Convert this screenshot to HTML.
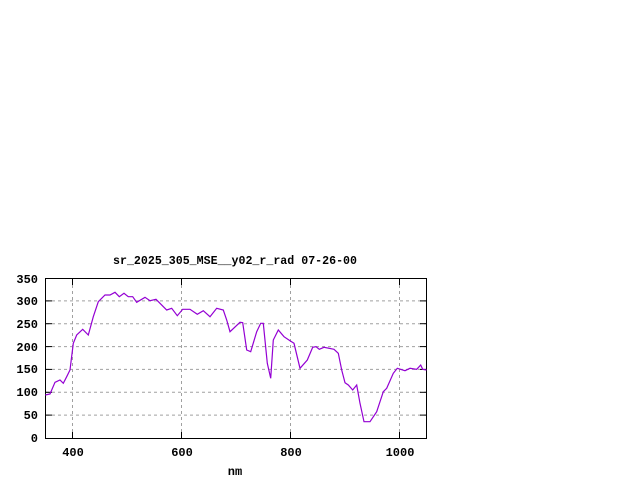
<!DOCTYPE html>
<html><head><meta charset="utf-8"><style>
html,body{margin:0;padding:0;background:#fff;width:640px;height:480px;overflow:hidden}
text{font-family:"Liberation Mono",monospace;font-size:12px;font-weight:bold;fill:#000}
</style></head><body>
<svg width="640" height="480" xmlns="http://www.w3.org/2000/svg">
<g stroke="#a0a0a0" stroke-width="1" stroke-dasharray="3,3">
<line x1="46" y1="415.1" x2="426" y2="415.1"/>
<line x1="46" y1="392.3" x2="426" y2="392.3"/>
<line x1="46" y1="369.4" x2="426" y2="369.4"/>
<line x1="46" y1="346.6" x2="426" y2="346.6"/>
<line x1="46" y1="323.7" x2="426" y2="323.7"/>
<line x1="46" y1="300.9" x2="426" y2="300.9"/>
<line x1="72.5" y1="279" x2="72.5" y2="438"/>
<line x1="181.5" y1="279" x2="181.5" y2="438"/>
<line x1="290.5" y1="279" x2="290.5" y2="438"/>
<line x1="399.5" y1="279" x2="399.5" y2="438"/>
</g>
<rect x="45.5" y="278.5" width="381" height="160" fill="none" stroke="#000"/>
<g stroke="#000">
<line x1="46" y1="415.1" x2="52" y2="415.1"/><line x1="420" y1="415.1" x2="426" y2="415.1"/>
<line x1="46" y1="392.3" x2="52" y2="392.3"/><line x1="420" y1="392.3" x2="426" y2="392.3"/>
<line x1="46" y1="369.4" x2="52" y2="369.4"/><line x1="420" y1="369.4" x2="426" y2="369.4"/>
<line x1="46" y1="346.6" x2="52" y2="346.6"/><line x1="420" y1="346.6" x2="426" y2="346.6"/>
<line x1="46" y1="323.7" x2="52" y2="323.7"/><line x1="420" y1="323.7" x2="426" y2="323.7"/>
<line x1="46" y1="300.9" x2="52" y2="300.9"/><line x1="420" y1="300.9" x2="426" y2="300.9"/>
<line x1="72.5" y1="438" x2="72.5" y2="432"/><line x1="72.5" y1="279" x2="72.5" y2="285"/>
<line x1="181.5" y1="438" x2="181.5" y2="432"/><line x1="181.5" y1="279" x2="181.5" y2="285"/>
<line x1="290.5" y1="438" x2="290.5" y2="432"/><line x1="290.5" y1="279" x2="290.5" y2="285"/>
<line x1="399.5" y1="438" x2="399.5" y2="432"/><line x1="399.5" y1="279" x2="399.5" y2="285"/>
</g>
<polyline fill="none" stroke="#9400d3" stroke-width="1.2" points="45.3,395 50,394 55,382.3 60,380 63.3,383.3 66.7,376.7 70,370 73.3,343.3 76.7,335 82.7,329.3 88.3,335 93.3,316.7 98.3,301.7 105,295 110,295 115,292.3 119.3,296.7 124,293.3 128.3,296.7 132.7,296.7 136.7,302.3 145,297.3 150,300.7 156,299.3 160,303.3 166.7,310 171.7,308.3 177.3,315.7 182.7,309.3 190,309.3 197.3,314.3 203.3,310.7 210,316.7 216.7,308.3 223.3,310 226.7,320 230,331.7 240,322.3 242.7,322.7 246.7,350 250.7,351.7 256.7,331.7 260.7,323.3 263.3,323.3 267.3,363.3 270.7,378.3 273.3,340 278.3,330 284,336.7 290,340.7 294,343.3 300,368.3 307.3,360 312.7,347.3 316,346.7 319.3,349.3 324,347.3 334,349.3 338.3,353.3 341.7,370 345,382.7 348.3,385 352.7,390 356.7,385 360,403.3 364,421.7 370,421.7 376.7,411.7 383.3,391.7 386.7,388.3 393.3,373.3 397.3,368.3 405,370.7 410,368.3 416.7,369.3 420.7,365 422.7,369.3 426.5,370"/>
<g text-anchor="end">
<text x="38" y="442">0</text>
<text x="38" y="419">50</text>
<text x="38" y="396">100</text>
<text x="38" y="373">150</text>
<text x="38" y="351">200</text>
<text x="38" y="328">250</text>
<text x="38" y="305">300</text>
<text x="38" y="283">350</text>
</g>
<g text-anchor="middle">
<text x="73" y="456">400</text>
<text x="182" y="456">600</text>
<text x="291" y="456">800</text>
<text x="400" y="456">1000</text>
<text x="235" y="475">nm</text>
</g>
<text x="113" y="264" textLength="244" lengthAdjust="spacingAndGlyphs">sr_2025_305_MSE__y02_r_rad 07-26-00</text>
</svg>
</body></html>
